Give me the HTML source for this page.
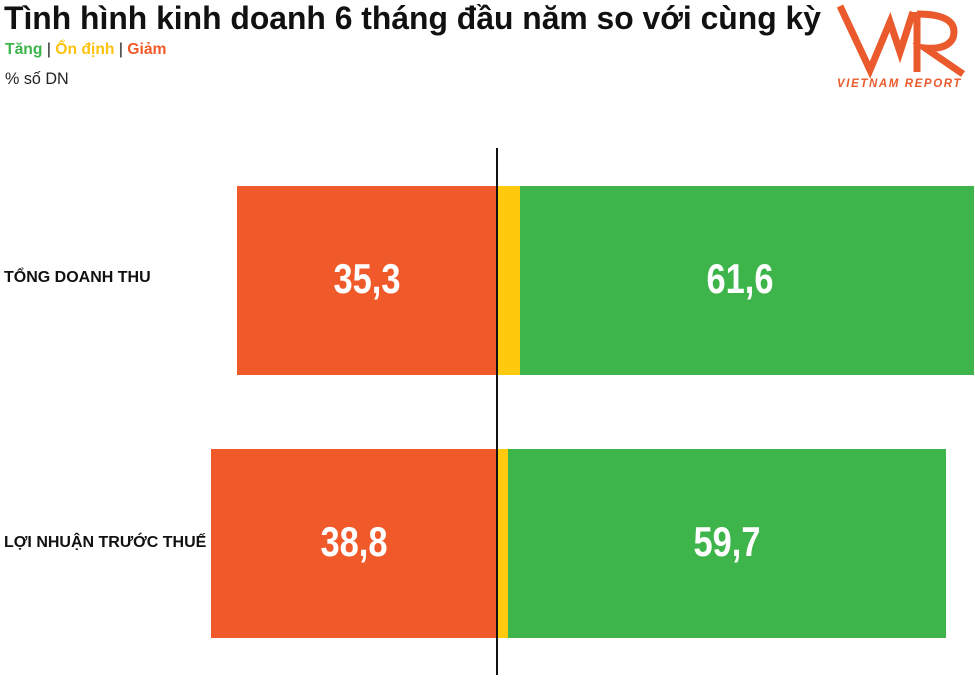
<!DOCTYPE html>
<html><head><meta charset="utf-8"><style>
body{margin:0;width:975px;height:689px;background:#fff;position:relative;overflow:hidden;font-family:"Liberation Sans",sans-serif}
.a{position:absolute;white-space:nowrap}
.t{left:4px;top:0px;font-size:32px;font-weight:bold;transform-origin:0 0;transform:scaleX(0.995);color:#111}
.b{position:absolute}
.v{position:absolute;color:#fff;font-weight:bold;font-size:42px;transform:scaleX(0.82);text-align:center}
</style></head><body>
<div class="a t">Tình hình kinh doanh 6 tháng đầu năm so với cùng kỳ</div>
<div class="a" style="left:5px;top:41px;font-size:16px;font-weight:bold;transform-origin:0 0;transform:scaleX(0.98)"><span style="color:#3cb44b">Tăng</span> <span style="color:#111;font-weight:normal">|</span> <span style="color:#ffc20e">Ổn định</span> <span style="color:#111;font-weight:normal">|</span> <span style="color:#f05a28">Giảm</span></div>
<div class="a" style="left:5px;top:69px;font-size:17px;color:#222;transform-origin:0 0;transform:scaleX(0.95)">% số DN</div>
<svg class="b" style="left:835px;top:0" width="140" height="92">
<polyline points="5,6 35,70 55,22 65,52 78,12" fill="none" stroke="#ea5a2c" stroke-width="7"/>
<path d="M82,12 L82,72 M82,14 Q125,14 118,38 Q112,50 90,48 L128,74" fill="none" stroke="#ea5a2c" stroke-width="7"/>
<text x="2" y="87" font-family="Liberation Sans" font-size="11.5" font-weight="bold" font-style="italic" fill="#ea5a2c" letter-spacing="1.6">VIETNAM REPORT</text>
</svg>
<div class="b" style="left:237px;top:186px;width:260px;height:189px;background:#f05a2b"></div>
<div class="b" style="left:497px;top:186px;width:23px;height:189px;background:#ffc90d"></div>
<div class="b" style="left:520px;top:186px;width:454px;height:189px;background:#3db54a"></div>
<div class="b" style="left:211px;top:449px;width:286px;height:189px;background:#f05a2b"></div>
<div class="b" style="left:497px;top:449px;width:11px;height:189px;background:#ffc90d"></div>
<div class="b" style="left:508px;top:449px;width:438px;height:189px;background:#3db54a"></div>
<div class="b" style="left:496px;top:148px;width:1.5px;height:527px;background:#111"></div>
<div class="v" style="left:237px;width:260px;top:255px">35,3</div>
<div class="v" style="left:520px;width:440px;top:255px">61,6</div>
<div class="v" style="left:211px;width:286px;top:518px">38,8</div>
<div class="v" style="left:508px;width:438px;top:518px">59,7</div>
<div class="a" style="left:4px;top:269px;font-size:16px;font-weight:bold;color:#111;transform-origin:0 0;transform:scaleX(1.0)">TỔNG DOANH THU</div>
<div class="a" style="left:4px;top:534px;font-size:16px;font-weight:bold;color:#111;transform-origin:0 0;transform:scaleX(1.0)">LỢI NHUẬN TRƯỚC THUẾ</div>
</body></html>
